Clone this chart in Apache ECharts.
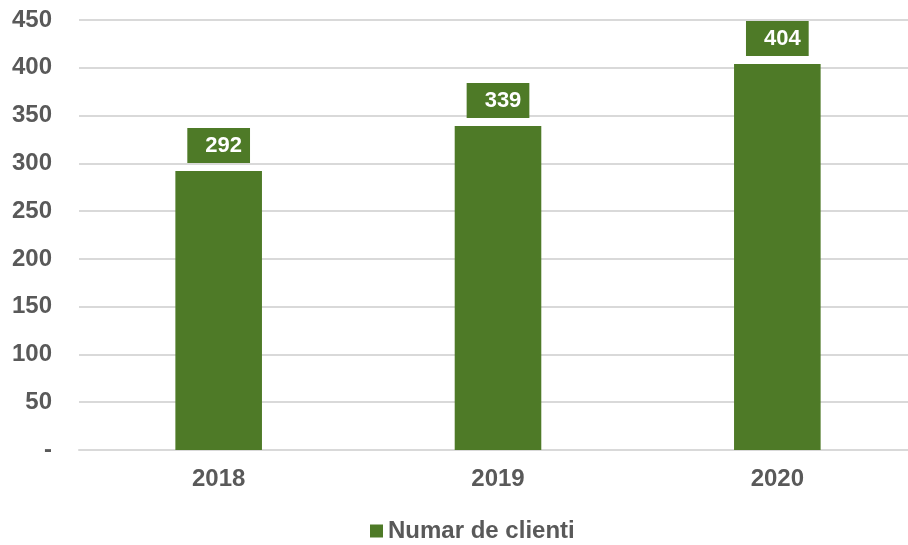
<!DOCTYPE html>
<html>
<head>
<meta charset="utf-8">
<script src="https://cdn.jsdelivr.net/npm/echarts@6/dist/echarts.min.js"></script>
<style>
    html, body { margin: 0; padding: 0; background: #fff; }
    #chart { width: 908px; height: 545px; }
</style>
</head>
<body>
<div id="chart"></div>
<script>
var years = ['2018', '2019', '2020'];
var clienti = [292, 339, 404];
var seriesName = 'Numar de clienti';

var green = '#4e7a27';
var textColor = '#595959';
var fontName = '"Liberation Sans", Arial, sans-serif';

var chart = echarts.init(document.getElementById('chart'));
chart.setOption({
    animation: false,
    grid: {
        left: 79,
        width: 838,
        top: 20,
        bottom: 95,
        outerBoundsMode: 'none',
        containLabel: false
    },
    legend: {
        data: [seriesName],
        top: 514,
        left: 365,
        icon: 'rect',
        itemWidth: 13,
        itemHeight: 13,
        itemGap: 4,
        textStyle: {
            color: textColor,
            fontSize: 24,
            fontWeight: 'bold',
            fontFamily: fontName
        }
    },
    xAxis: {
        type: 'category',
        data: years,
        axisTick: { show: false },
        axisLine: { lineStyle: { color: '#d9d9d9', width: 2 } },
        axisLabel: {
            color: textColor,
            fontSize: 24,
            fontWeight: 'bold',
            fontFamily: fontName,
            margin: 17
        }
    },
    yAxis: {
        type: 'value',
        min: 0,
        max: 450,
        interval: 50,
        axisLine: { show: false },
        axisTick: { show: false },
        splitLine: { lineStyle: { color: '#d9d9d9', width: 2 } },
        axisLabel: {
            color: textColor,
            fontSize: 24,
            fontWeight: 'bold',
            fontFamily: fontName,
            margin: 27,
            formatter: function (v) {
                return v === 0 ? '-' : v;
            }
        }
    },
    series: [
        {
            name: seriesName,
            type: 'bar',
            data: clienti,
            barWidth: '31%',
            itemStyle: { color: green },
            label: {
                show: true,
                position: 'top',
                distance: 8,
                color: '#fff',
                fontSize: 22,
                fontWeight: 'bold',
                fontFamily: fontName,
                backgroundColor: green,
                padding: [7, 8, 6, 18]
            }
        }
    ]
});
</script>
</body>
</html>
